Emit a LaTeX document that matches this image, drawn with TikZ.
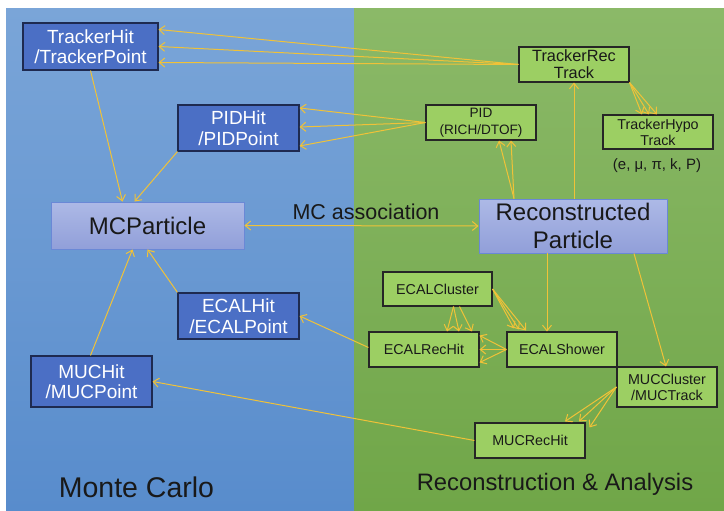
\documentclass[tikz,border=0pt]{standalone}
\usepackage{fontspec}
\setmainfont{Liberation Sans}
\usetikzlibrary{arrows.meta}
\definecolor{bluetop}{HTML}{7AA5D8}
\definecolor{bluebot}{HTML}{588CCC}
\definecolor{greentop}{HTML}{8BB968}
\definecolor{greenbot}{HTML}{70A648}
\definecolor{hitfill}{HTML}{4B6FC5}
\definecolor{hitline}{HTML}{1E2A50}
\definecolor{recfill}{HTML}{9CCF63}
\definecolor{parttop}{HTML}{ADB9E6}
\definecolor{partbot}{HTML}{919FD9}
\definecolor{partline}{HTML}{6A88D6}
\definecolor{arrcol}{HTML}{F0C238}
\tikzset{
  hitbox/.style={draw=hitline, line width=1.1pt, fill=hitfill, text=white, inner sep=0pt,
    align=center, font=\fontsize{19}{20.5}\selectfont},
  recbox/.style={draw=black!85, line width=1.1pt, fill=recfill, text=black!90, inner sep=0pt,
    align=center, font=\fontsize{14.3}{16}\selectfont},
  partbox/.style={draw=partline, line width=0.9pt, top color=parttop, bottom color=partbot,
    text=black!90, inner sep=0pt, align=center, font=\fontsize{24}{28}\selectfont},
  arr/.style={draw=arrcol, line width=1pt, -{Straight Barb[length=5.5pt,width=9pt]}},
  darr/.style={draw=arrcol, line width=1pt, {Straight Barb[length=5.5pt,width=9pt]}-{Straight Barb[length=5.5pt,width=9pt]}},
  lbl/.style={inner sep=0pt, text=black!90}
}
\begin{document}
\begin{tikzpicture}[x=1pt,y=-1pt]
\useasboundingbox (0,0) rectangle (724,511);
\fill[white] (0,0) rectangle (724,511);
\shade[top color=bluetop, bottom color=bluebot] (6,9) rectangle (354,511);
\shade[top color=greentop, bottom color=greenbot] (354,9) rectangle (724,511);

% Monte Carlo nodes
\node[hitbox, minimum width=135pt, minimum height=47pt] (trkhit) at (90.5,46.5) {TrackerHit\\/TrackerPoint};
\node[hitbox, minimum width=121pt, minimum height=46pt] (pidhit) at (238.5,128) {PIDHit\\/PIDPoint};
\node[partbox, minimum width=193pt, minimum height=47pt] (mcp) at (147.5,225.5) {MCParticle};
\node[hitbox, minimum width=121pt, minimum height=46pt] (ecalhit) at (238.5,316) {ECALHit\\/ECALPoint};
\node[hitbox, minimum width=121pt, minimum height=51pt] (muchit) at (91.5,381.5) {MUCHit\\/MUCPoint};

% Reconstruction nodes
\node[recbox, minimum width=110pt, minimum height=35pt, font=\fontsize{16.3}{17}\selectfont] (trkrec) at (574,64.5) {TrackerRec\\Track};
\node[recbox, minimum width=110pt, minimum height=35pt, font=\fontsize{13.6}{16.5}\selectfont] (pid) at (481,122.5) {PID\\(RICH/DTOF)};
\node[recbox, minimum width=110pt, minimum height=34pt] (hypo) at (658,132) {TrackerHypo\\Track};
\node[lbl, font=\fontsize{15}{17}\selectfont] (hypolbl) at (657,166) {(e, μ, π, k, P)};
\node[partbox, minimum width=188pt, minimum height=54pt] (reco) at (573,226) {Reconstructed\\Particle};
\node[recbox, minimum width=109pt, minimum height=34pt] (ecalcl) at (437.5,289) {ECALCluster};
\node[recbox, minimum width=110pt, minimum height=35pt] (ecalrec) at (424,349.5) {ECALRecHit};
\node[recbox, minimum width=110pt, minimum height=35pt] (ecalsh) at (562,349.5) {ECALShower};
\node[recbox, minimum width=100pt, minimum height=40pt] (muccl) at (667,387) {MUCCluster\\/MUCTrack};
\node[recbox, minimum width=110pt, minimum height=35pt] (mucrec) at (530,440.5) {MUCRecHit};

% Labels
\node[lbl, font=\fontsize{21.5}{24}\selectfont] (mcassoc) at (366,212) {MC association};
\node[lbl, font=\fontsize{28.5}{32}\selectfont] (mclbl) at (136.5,487) {Monte Carlo};
\node[lbl, font=\fontsize{23.8}{28}\selectfont] (recolbl) at (555,484) {Reconstruction \& Analysis};

% Connectors
\draw[arr] (trkrec.west) -- ([yshift=17pt]trkhit.east);
\draw[arr] (trkrec.west) -- (trkhit.east);
\draw[arr] (trkrec.west) -- ([yshift=-16pt]trkhit.east);
\draw[arr] (pid.west) -- ([yshift=20pt]pidhit.east);
\draw[arr] (pid.west) -- ([yshift=1pt]pidhit.east);
\draw[arr] (pid.west) -- ([yshift=-18pt]pidhit.east);
\draw[arr] (trkhit.south) -- ([xshift=-25pt]mcp.north);
\draw[arr] (pidhit.south west) -- ([xshift=-13pt]mcp.north);
\draw[arr] (ecalhit.north west) -- (mcp.south);
\draw[arr] ([xshift=-1pt]muchit.north) -- ([xshift=-15pt]mcp.south);
\draw[darr] (mcp.east) -- (reco.west);
\draw[arr] ([xshift=1pt]reco.north) -- (trkrec.south);
\draw[arr] ([xshift=-59pt]reco.north) -- ([xshift=18pt]pid.south);
\draw[arr] ([xshift=-59pt]reco.north) -- ([xshift=30pt]pid.south);
\draw[arr] (trkrec.south east) -- ([xshift=-16pt]hypo.north);
\draw[arr] (trkrec.south east) -- ([xshift=-9pt]hypo.north);
\draw[arr] (trkrec.south east) -- ([xshift=-1pt]hypo.north);
\draw[arr] ([xshift=-26pt]reco.south) -- ([xshift=-15pt]ecalsh.north);
\draw[arr] ([xshift=61pt]reco.south) -- ([xshift=-1pt]muccl.north);
\draw[arr] (ecalcl.east) -- ([xshift=-48pt,yshift=3pt]ecalsh.north);
\draw[arr] (ecalcl.east) -- ([xshift=-43pt,yshift=2pt]ecalsh.north);
\draw[arr] (ecalcl.east) -- ([xshift=-36pt,yshift=1pt]ecalsh.north);
\draw[arr] ([xshift=16pt]ecalcl.south) -- ([xshift=23pt]ecalrec.north);
\draw[arr] ([xshift=16pt]ecalcl.south) -- ([xshift=35pt]ecalrec.north);
\draw[arr] ([xshift=22pt]ecalcl.south) -- ([xshift=48pt]ecalrec.north);
\draw[arr] (ecalsh.west) -- ([yshift=14pt]ecalrec.east);
\draw[arr] (ecalsh.west) -- (ecalrec.east);
\draw[arr] (ecalsh.west) -- ([yshift=-13pt]ecalrec.east);
\draw[arr] ([yshift=2pt]ecalrec.west) -- (ecalhit.east);
\draw[arr] (muccl.west) -- ([xshift=35pt,yshift=1pt]mucrec.north);
\draw[arr] (muccl.west) -- ([xshift=49pt,yshift=1pt]mucrec.north);
\draw[arr] (muccl.west) -- ([xshift=4pt,yshift=-5pt]mucrec.north east);
\draw[arr] (mucrec.west) -- (muchit.east);
\end{tikzpicture}
\end{document}
